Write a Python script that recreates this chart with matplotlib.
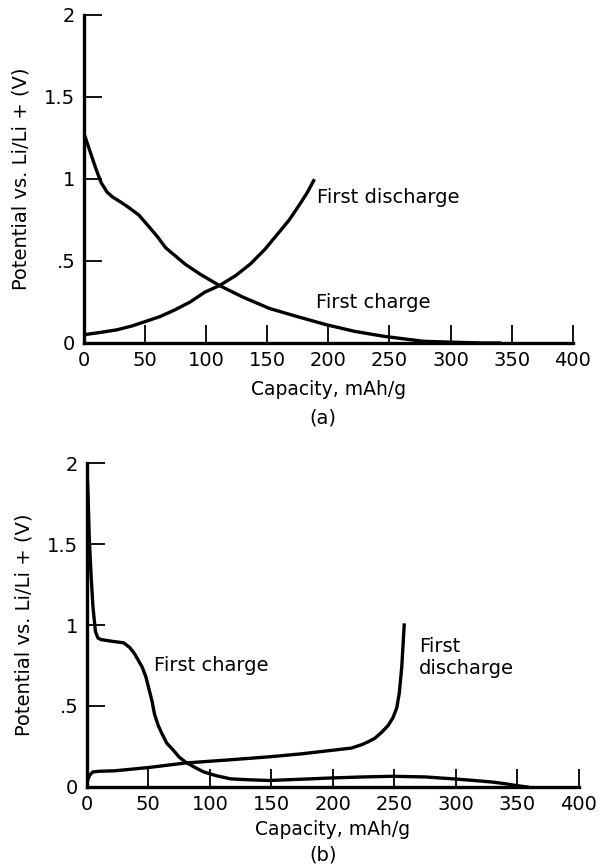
import matplotlib.pyplot as plt

# panel (a)
a_charge_x = [0, 5, 10, 14, 19, 23.5, 30, 36, 45, 52, 60, 67, 75, 83, 95, 111, 130, 152, 175, 199, 222, 246, 262, 278, 300, 325, 340]
a_charge_y = [1.28, 1.17, 1.06, 0.98, 0.92, 0.89, 0.86, 0.83, 0.78, 0.72, 0.65, 0.58, 0.53, 0.48, 0.42, 0.35, 0.28, 0.21, 0.16, 0.11, 0.07, 0.04, 0.025, 0.01, 0.005, 0.0, 0.0]
a_dis_x = [0, 14, 27, 40, 50, 62, 74, 87, 99, 111, 124, 136, 148, 158, 168, 177, 183, 188]
a_dis_y = [0.05, 0.065, 0.08, 0.105, 0.13, 0.16, 0.20, 0.25, 0.31, 0.35, 0.41, 0.48, 0.57, 0.66, 0.75, 0.85, 0.92, 0.99]

# panel (b)
b_charge_x = [0, 1, 2, 3.5, 5, 7, 9, 11.5, 20, 30, 35, 39, 42, 45, 48, 50, 53, 55, 58, 61, 65, 70, 75, 80, 88, 95, 105, 117, 130, 148, 175, 200, 225, 248, 275, 298, 315, 330, 340, 348, 358]
b_charge_y = [2.0, 1.8, 1.53, 1.3, 1.11, 0.96, 0.92, 0.91, 0.90, 0.89, 0.86, 0.82, 0.78, 0.74, 0.68, 0.62, 0.53, 0.45, 0.38, 0.33, 0.27, 0.23, 0.185, 0.155, 0.12, 0.093, 0.07, 0.05, 0.045, 0.04, 0.048, 0.056, 0.062, 0.066, 0.062, 0.05, 0.04, 0.03, 0.02, 0.01, 0.0]
b_dis_x = [0, 1, 2.5, 5, 10, 23, 50, 80, 115, 148, 175, 200, 215, 223, 229, 234, 240, 245, 249, 252, 254, 256, 257, 258]
b_dis_y = [0.02, 0.05, 0.075, 0.093, 0.097, 0.10, 0.12, 0.148, 0.167, 0.186, 0.205, 0.227, 0.24, 0.26, 0.28, 0.30, 0.34, 0.38, 0.43, 0.49, 0.58, 0.74, 0.87, 1.0]

x_ticks = [0, 50, 100, 150, 200, 250, 300, 350, 400]
x_ticklabels = ['0', '50', '100', '150', '200', '250', '300', '350', '400']
y_ticks = [0, 0.5, 1, 1.5, 2]
y_ticklabels = ['0', '.5', '1', '1.5', '2']

plt.rcParams['font.family'] = ['DejaVu Sans']

fig = plt.figure(figsize=(6.03, 8.65), dpi=100)
ax_a = fig.add_axes([0.139, 0.6035, 0.811, 0.3792])
ax_b = fig.add_axes([0.144, 0.0902, 0.816, 0.3745])


def style(ax, xpad):
    ax.set_xlim(0, 400)
    ax.set_ylim(0, 2)
    for s in ['top', 'right']:
        ax.spines[s].set_visible(False)
    for s in ['left', 'bottom']:
        ax.spines[s].set_linewidth(2.4)
    ax.set_xticks(x_ticks)
    ax.set_xticklabels(x_ticklabels, fontsize=14)
    ax.set_yticks(y_ticks)
    ax.set_yticklabels(y_ticklabels, fontsize=14)
    ax.tick_params(direction='in', length=13, width=1.3, pad=6)
    ax.set_xlabel('Capacity, mAh/g', fontsize=13.5, labelpad=xpad)
    ax.set_ylabel('Potential vs. Li/Li + (V)', fontsize=14, labelpad=10)


style(ax_a, 7)
ax_a.plot(a_charge_x, a_charge_y, color='black', lw=2.4)
ax_a.plot(a_dis_x, a_dis_y, color='black', lw=2.4)
ax_a.text(191, 0.89, 'First discharge', fontsize=14, va='center')
ax_a.text(190, 0.245, 'First charge', fontsize=14, va='center')
fig.text(0.536, 1 - 418 / 865, '(a)', fontsize=14, ha='center', va='center')

style(ax_b, 4)
ax_b.plot(b_charge_x, b_charge_y, color='black', lw=2.4)
ax_b.plot(b_dis_x, b_dis_y, color='black', lw=2.4)
ax_b.text(55, 0.75, 'First charge', fontsize=14, va='center')
ax_b.text(270, 0.80, 'First\ndischarge', fontsize=14, va='center', linespacing=1.15)
fig.text(0.536, 1 - 855 / 865, '(b)', fontsize=14, ha='center', va='center')

fig.savefig('out.png', dpi=100)
